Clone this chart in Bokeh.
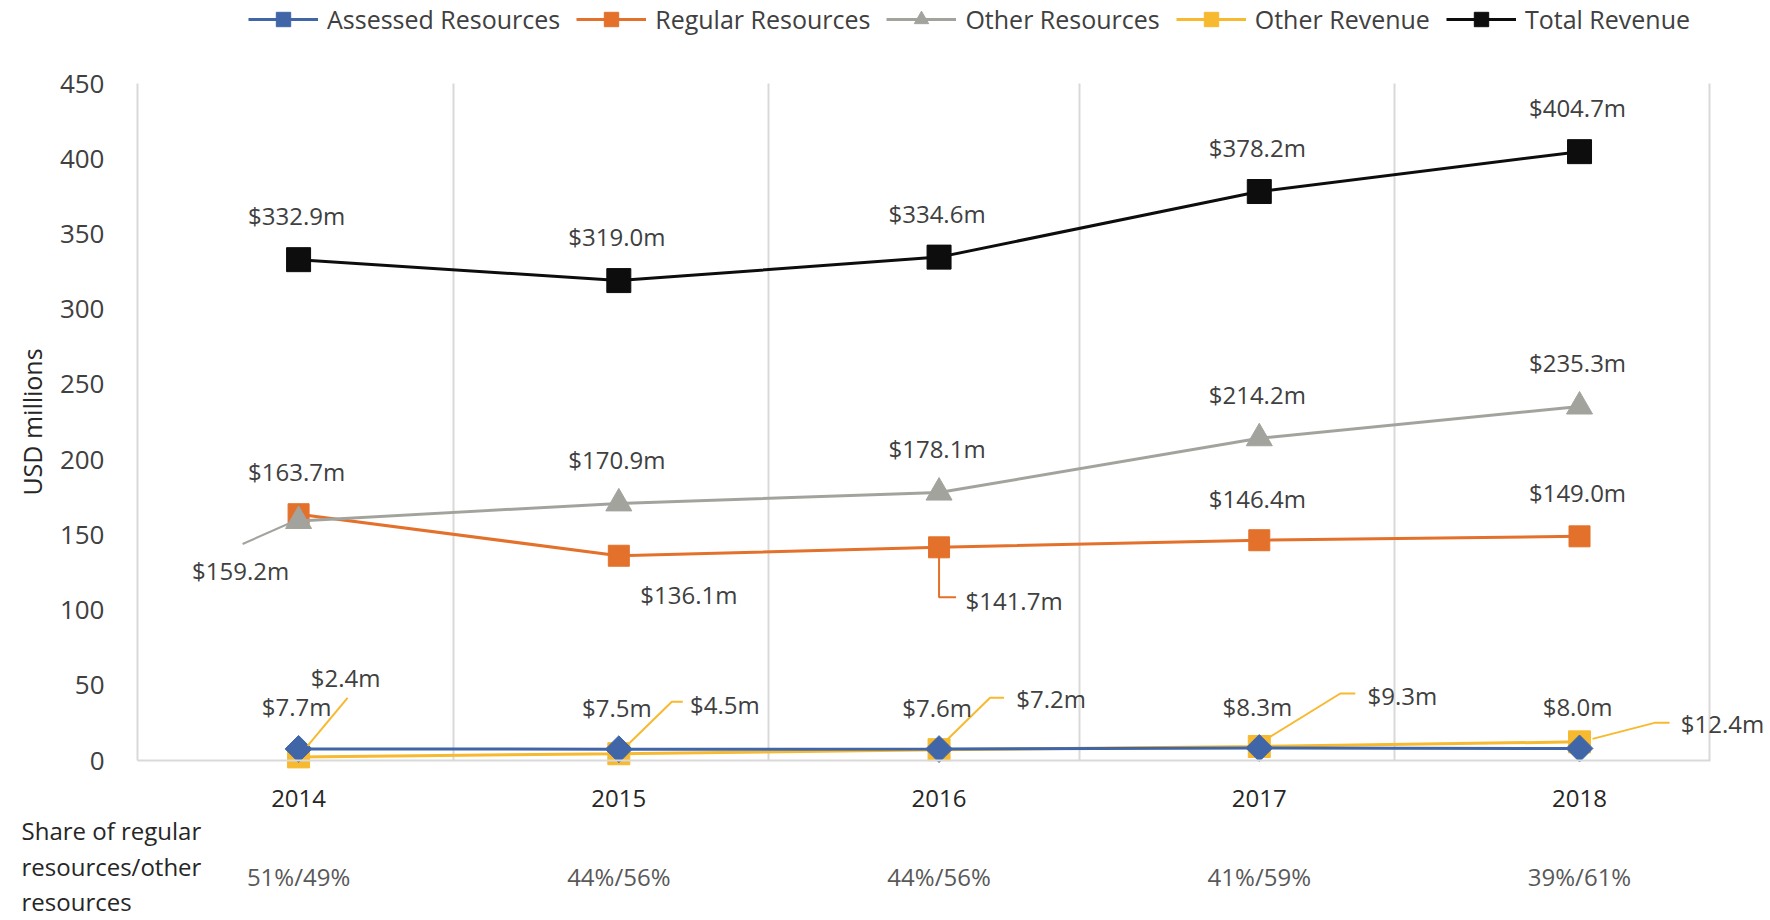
import math
from bokeh.plotting import figure
from bokeh.models import (Range1d, LinearAxis, FixedTicker, ColumnDataSource, Legend,
                          LegendItem, LabelSet)
from bokeh.embed import file_html
from bokeh.resources import INLINE
from bokeh.core.properties import value

# ---------------- data ----------------
years = ["2014", "2015", "2016", "2017", "2018"]
assessed = [7.7, 7.5, 7.6, 8.3, 8.0]
regular = [163.7, 136.1, 141.7, 146.4, 149.0]
other_res = [159.2, 170.9, 178.1, 214.2, 235.3]
other_rev = [2.4, 4.5, 7.2, 9.3, 12.4]
total = [332.9, 319.0, 334.6, 378.2, 404.7]
shares = ["51%/49%", "44%/56%", "44%/56%", "41%/59%", "39%/61%"]
share_title = ["Share of regular", "resources/other", "resources"]
y_ticks = [0, 50, 100, 150, 200, 250, 300, 350, 400, 450]

# ---------------- layout ----------------
W, H = 1770, 920
FL, FR, FT, FB = 137, 1710, 83, 760          # plot-area box in pixels
X0, X1 = -0.503, 4.409                        # category axis extent of the plot area
Y0, Y1 = 0, 450
PXX = (FR - FL) / (X1 - X0)
PXY = (FB - FT) / (Y1 - Y0)


def xpx(px):
    return X0 + (px - FL) / PXX


def ypx(py):
    return Y0 + (FB - py) / PXY


xs = list(range(len(years)))

FONT = "Open Sans"
TXT = "#404040"
GRID = "#D9D9D9"

p = figure(width=W, height=H,
           x_range=Range1d(xpx(0), xpx(W)), y_range=Range1d(ypx(H), ypx(0)),
           output_backend="svg", toolbar_location=None,
           x_axis_type=None, y_axis_type=None,
           min_border_left=0, min_border_right=0, min_border_top=0, min_border_bottom=0)
p.outline_line_color = None
p.background_fill_color = "white"
p.border_fill_color = "white"
p.xgrid.visible = False
p.ygrid.visible = False

# y axis, pinned at the left edge of the plot area
yax = LinearAxis(ticker=FixedTicker(ticks=y_ticks), fixed_location=X0, bounds=(Y0, Y1))
yax.major_tick_line_color = None
yax.minor_tick_line_color = None
yax.axis_line_color = GRID
yax.axis_line_width = 2
yax.major_label_text_font = FONT
yax.major_label_text_font_size = "26px"
yax.major_label_text_color = "#404040"
yax.major_label_standoff = 27
yax.axis_label = "USD millions"
yax.axis_label_text_font = FONT
yax.axis_label_text_font_size = "25px"
yax.axis_label_text_font_style = "normal"
yax.axis_label_text_color = "#262626"
yax.axis_label_standoff = 8
p.add_layout(yax, "left")

# category axis (years) pinned at y = 0
xax = LinearAxis(ticker=FixedTicker(ticks=xs), fixed_location=0, bounds=(X0, X1),
                 major_label_overrides={i: t for i, t in enumerate(years)})
xax.major_tick_line_color = None
xax.minor_tick_line_color = None
xax.axis_line_color = GRID
xax.axis_line_width = 2
xax.major_label_text_font = FONT
xax.major_label_text_font_size = "24px"
xax.major_label_text_color = "#262626"
xax.major_label_standoff = 23
p.add_layout(xax, "below")

# share row as a second category axis
sax = LinearAxis(ticker=FixedTicker(ticks=xs), fixed_location=0,
                 major_label_overrides={i: t for i, t in enumerate(shares)})
sax.major_tick_line_color = None
sax.minor_tick_line_color = None
sax.axis_line_color = None
sax.major_label_text_font = FONT
sax.major_label_text_font_size = "24px"
sax.major_label_text_color = "#595959"
sax.major_label_standoff = 93
p.add_layout(sax, "below")

# vertical gridlines at category boundaries (plus right border)
grid_px = [453, 768, 1079, 1394, 1709]
gx = [xpx(v) for v in grid_px]
p.segment(x0=gx, y0=[Y0] * len(gx), x1=gx, y1=[Y1] * len(gx),
          line_color=GRID, line_width=2)

# ---------------- series ----------------
series = [
    ("Other Revenue", other_rev, "#F7B92F", "square", 22, 0),
    ("Assessed Resources", assessed, "#4066A8", "square", 19, math.pi / 4),
    ("Regular Resources", regular, "#E3712B", "square", 21, 0),
    ("Other Resources", other_res, "#A3A39E", "triangle", 26, 0),
    ("Total Revenue", total, "#0D0D0D", "square", 24, 0),
]
legend_rs = {}
for name, vals, col, mk, sz, ang in series:
    src = ColumnDataSource(dict(x=xs, y=vals))
    lr = p.line("x", "y", source=src, line_color=col, line_width=3)
    sr = p.scatter("x", "y", source=src, marker=mk, size=sz, angle=ang,
                   fill_color=col, line_color=col)
    legend_rs[name] = [lr, sr]

# ---------------- data labels ----------------
lab_x, lab_y, lab_t = [], [], []


def add_label(i, v, dx, dy):
    lab_x.append(xs[i] + dx / PXX)
    lab_y.append(v - dy / PXY)
    lab_t.append("$%.1fm" % v)


for i, v in enumerate(total):
    add_label(i, v, -2, -44)
for i, v in enumerate(other_res):
    if i == 0:
        add_label(i, v, -58, 50)
    else:
        add_label(i, v, -2, -44)
reg_off = [(-2, -43), (70, 39), (75, 53), (-2, -42), (-2, -44)]
for i, v in enumerate(regular):
    add_label(i, v, *reg_off[i])
for i, v in enumerate(assessed):
    add_label(i, v, -2, -42)
rev_off = [(47, -79), (106, -49), (112, -51), (143, -51), (143, -18)]
for i, v in enumerate(other_rev):
    add_label(i, v, *rev_off[i])

lsrc = ColumnDataSource(dict(x=lab_x, y=lab_y, t=lab_t))
p.add_layout(LabelSet(x="x", y="y", text="t", source=lsrc, text_align="center",
                      text_baseline="middle", text_font=value(FONT),
                      text_font_size="24px", text_color=TXT))


# ---------------- leader lines ----------------
def leader(i, v, pts):
    return ([xs[i] + dx / PXX for dx, dy in pts], [v - dy / PXY for dx, dy in pts])


rev_lead = [
    [(9, -11), (49, -59)],
    [(11, -11), (53, -52), (64, -52)],
    [(7, -9), (51, -52), (65, -52)],
    [(8, -8), (81, -53), (96, -53)],
    [(13, -3), (75, -19), (90, -19)],
]
lx, ly = [], []
for i, v in enumerate(other_rev):
    a, b = leader(i, v, rev_lead[i])
    lx.append(a)
    ly.append(b)
p.multi_line(lx, ly, line_color="#F7B92F", line_width=2)

a, b = leader(0, other_res[0], [(-4, 0), (-56, 23)])
p.line(a, b, line_color="#A3A39E", line_width=2)
a, b = leader(2, regular[2], [(0, 8), (0, 50), (17, 50)])
p.line(a, b, line_color="#E3712B", line_width=2)

# ---------------- share row title ----------------
tsrc = ColumnDataSource(dict(x=[xpx(21)] * 3, y=[ypx(830), ypx(866), ypx(901)], t=share_title))
p.text(x="x", y="y", text="t", source=tsrc, text_align="left", text_baseline="middle",
       text_font=value(FONT), text_font_size="24px", text_color="#262626")

# ---------------- legend ----------------
order = ["Assessed Resources", "Regular Resources", "Other Resources", "Other Revenue", "Total Revenue"]
items = [LegendItem(label=n, renderers=legend_rs[n]) for n in order]
legend = Legend(items=items, orientation="horizontal", location=(248, 883),
                glyph_width=70, glyph_height=36, label_height=36, label_standoff=9,
                spacing=16, padding=0, margin=0, border_line_color=None,
                background_fill_alpha=0, label_text_font=FONT,
                label_text_font_size="25px", label_text_color=TXT)
p.add_layout(legend)

open("out.html", "w").write(file_html(p, INLINE))
